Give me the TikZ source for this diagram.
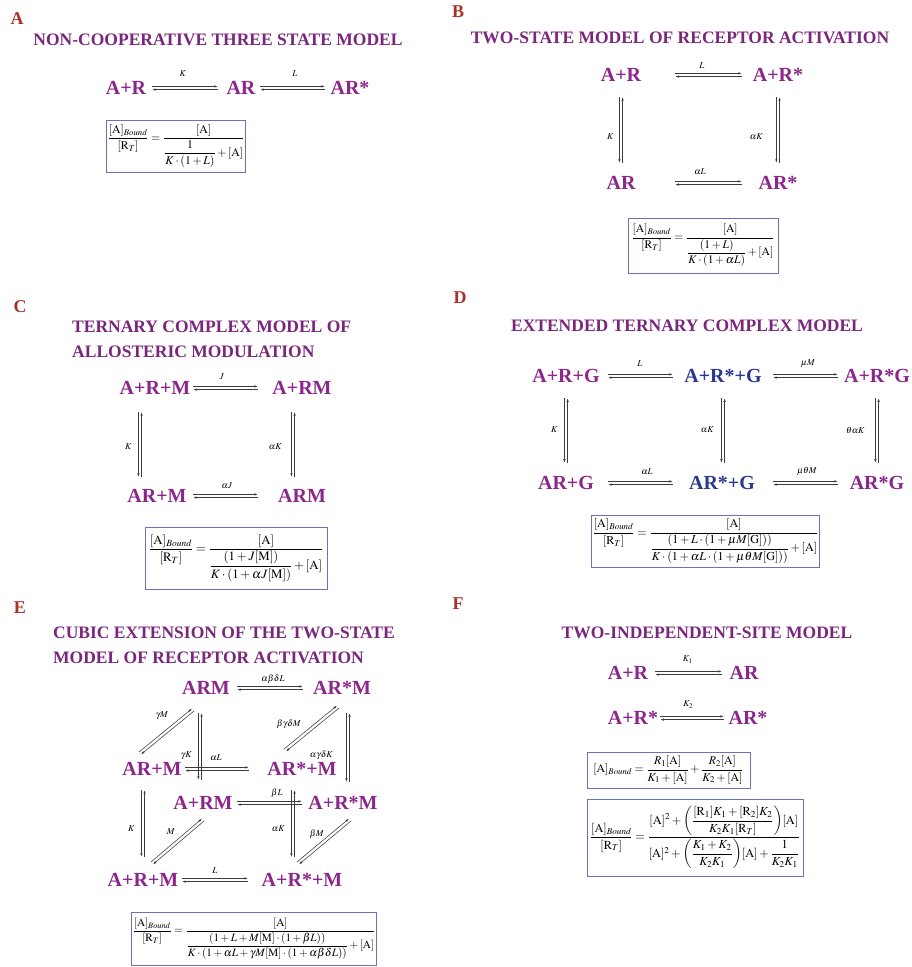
\documentclass[tikz,border=0pt]{standalone}
\usepackage{amsmath,mathptmx}
\usepackage{fontspec}
\setmainfont{Liberation Serif}
\usetikzlibrary{arrows.meta}
\definecolor{spc}{RGB}{140,38,140}
\definecolor{ttlc}{RGB}{122,38,124}
\definecolor{blu}{RGB}{44,56,140}
\definecolor{letc}{RGB}{166,50,40}
\definecolor{boxc}{RGB}{108,114,182}
\definecolor{arrc}{RGB}{60,60,60}

\begin{document}
\begin{tikzpicture}[x=1pt,y=-1pt,
  sp/.style={font=\fontsize{20}{22}\selectfont\bfseries,text=spc,inner sep=2pt},
  spb/.style={sp,text=blu},
  ttl/.style={font=\fontsize{17.5}{25}\selectfont\bfseries,text=ttlc,inner sep=0pt},
  plet/.style={font=\fontsize{18}{20}\selectfont\bfseries,text=letc,inner sep=0pt},
  eqn/.style={draw=boxc,line width=0.8pt,inner sep=1pt,font=\fontsize{#1}{14}\selectfont},
  eqn/.default=12,
  arr/.style={draw=arrc,line width=0.55pt},
  fwd/.style={arr,-{Latex[length=3.5pt,width=2.4pt]},transform canvas={yshift=1.6pt}},
  bwd/.style={arr,{Latex[length=3.5pt,width=2.4pt]}-,transform canvas={yshift=-1.6pt}},
  dwn/.style={arr,-{Latex[length=3.5pt,width=2.4pt]},transform canvas={xshift=-1.6pt}},
  upw/.style={arr,{Latex[length=3.5pt,width=2.4pt]}-,transform canvas={xshift=1.6pt}},
  dgf/.style={arr,-{Latex[length=3.5pt,width=2.4pt]},transform canvas={xshift=-1.1pt,yshift=1.1pt}},
  dgb/.style={arr,{Latex[length=3.5pt,width=2.4pt]}-,transform canvas={xshift=1.1pt,yshift=-1.1pt}},
  lab/.style={font=\fontsize{9}{10}\selectfont,inner sep=0pt}]
  \useasboundingbox[fill=white] (0,0) rectangle (912,967);

  % A
  \node[plet] (la) at (17,19) {A};
  \node[ttl] (ta) at (218,40) {NON-COOPERATIVE THREE STATE MODEL};
  \node[sp] (a1) at (126,88) {A+R};
  \node[sp] (a2) at (241,88) {AR};
  \node[sp] (a3) at (350,88) {AR*};
  \draw[fwd,shorten <=3.9pt,shorten >=6.6pt](a1.east)--(a2.west) node[lab,midway,shift={(-3.4,-13)}]{$K$};
  \draw[bwd,shorten <=3.9pt,shorten >=6.6pt](a1.east)--(a2.west);
  \draw[fwd,shorten <=2.6pt,shorten >=3.6pt](a2.east)--(a3.west) node[lab,midway,shift={(2,-13)}]{$L$};
  \draw[bwd,shorten <=2.6pt,shorten >=3.6pt](a2.east)--(a3.west);
  \node[eqn=11.8,minimum width=138pt,minimum height=52pt] (ea) at (176,146)
    {$\displaystyle\frac{[\mathrm{A}]_{\mathit{Bound}}}{[\mathrm{R}_T]}=\frac{[\mathrm{A}]}{\dfrac{1}{K\cdot(1+L)}+[\mathrm{A}]}$};

  % B
  \node[plet] (lb) at (458,12) {B};
  \node[ttl] (tb) at (680,38) {TWO-STATE MODEL OF RECEPTOR ACTIVATION};
  \node[sp] (b1) at (621,75) {A+R};
  \node[sp] (b2) at (778,75) {A+R*};
  \node[sp] (b3) at (621,183) {AR};
  \node[sp] (b4) at (778,183) {AR*};
  \draw[fwd,shorten <=31.9pt,shorten >=8.9pt](b1.east)--(b2.west) node[lab,midway,shift={(5,-8)}]{$L$};
  \draw[bwd,shorten <=31.9pt,shorten >=8.9pt](b1.east)--(b2.west);
  \draw[fwd,shorten <=37.6pt,shorten >=14.6pt](b3.east)--(b4.west) node[lab,midway,shift={(3,-10)}]{$\alpha L$};
  \draw[bwd,shorten <=37.6pt,shorten >=14.6pt](b3.east)--(b4.west);
  \draw[dwn,shorten <=13.4pt,shorten >=11.4pt](b1.south)--(b3.north) node[lab,midway,shift={(-9,8)}]{$K$};
  \draw[upw,shorten <=13.4pt,shorten >=11.4pt](b1.south)--(b3.north);
  \draw[dwn,shorten <=13.4pt,shorten >=11.4pt](b2.south)--(b4.north) node[lab,midway,shift={(-20,8)}]{$\alpha K$};
  \draw[upw,shorten <=13.4pt,shorten >=11.4pt](b2.south)--(b4.north);
  \node[eqn=11.6,minimum width=150pt,minimum height=55pt] (eb) at (703,245.5)
    {$\displaystyle\frac{[\mathrm{A}]_{\mathit{Bound}}}{[\mathrm{R}_T]}=\frac{[\mathrm{A}]}{\dfrac{(1+L)}{K\cdot(1+\alpha L)}+[\mathrm{A}]}$};

  % C
  \node[plet] (lc) at (20,307) {C};
  \node[ttl,align=left,anchor=west] (tc) at (72,339.5) {TERNARY COMPLEX MODEL OF\\ALLOSTERIC MODULATION};
  \node[sp] (c1) at (155,388) {A+R+M};
  \node[sp] (c2) at (302,388) {A+RM};
  \node[sp] (c3) at (157,496) {AR+M};
  \node[sp] (c4) at (302,496) {ARM};
  \draw[fwd,shorten <=0.7pt,shorten >=12.4pt](c1.east)--(c2.west) node[lab,midway,shift={(-9.4,-10)}]{$J$};
  \draw[bwd,shorten <=0.7pt,shorten >=12.4pt](c1.east)--(c2.west);
  \draw[fwd,shorten <=4.4pt,shorten >=18.1pt](c3.east)--(c4.west) node[lab,midway,shift={(-5.4,-9)}]{$\alpha J$};
  \draw[bwd,shorten <=4.4pt,shorten >=18.1pt](c3.east)--(c4.west);
  \draw[dwn,shorten <=15.4pt,shorten >=10.4pt]([shift={(-15,0)}]c1.south)--([shift={(-17,0)}]c3.north) node[lab,midway,shift={(-10,5)}]{$K$};
  \draw[upw,shorten <=15.4pt,shorten >=10.4pt]([shift={(-15,0)}]c1.south)--([shift={(-17,0)}]c3.north);
  \draw[dwn,shorten <=15.4pt,shorten >=10.4pt]([shift={(-9,0)}]c2.south)--([shift={(-9,0)}]c4.north) node[lab,midway,shift={(-16,5)}]{$\alpha K$};
  \draw[upw,shorten <=15.4pt,shorten >=10.4pt]([shift={(-9,0)}]c2.south)--([shift={(-9,0)}]c4.north);
  \node[eqn=12.8,minimum width=182pt,minimum height=62pt] (ec) at (236,558)
    {$\displaystyle\frac{[\mathrm{A}]_{\mathit{Bound}}}{[\mathrm{R}_T]}=\frac{[\mathrm{A}]}{\dfrac{(1+J[\mathrm{M}])}{K\cdot(1+\alpha J[\mathrm{M}])}+[\mathrm{A}]}$};

  % D
  \node[plet] (ld) at (460,298) {D};
  \node[ttl] (td) at (687,326) {EXTENDED TERNARY COMPLEX MODEL};
  \node[sp] (d1) at (566,376) {A+R+G};
  \node[spb] (d2) at (723,376) {A+R*+G};
  \node[sp] (d3) at (877,376) {A+R*G};
  \node[sp] (d4) at (566,483) {AR+G};
  \node[spb] (d5) at (722,483) {AR*+G};
  \node[sp] (d6) at (877,483) {AR*G};
  \draw[fwd,shorten <=6.4pt,shorten >=9.4pt](d1.east)--(d2.west) node[lab,midway,shift={(-2,-11)}]{$L$};
  \draw[bwd,shorten <=6.4pt,shorten >=9.4pt](d1.east)--(d2.west);
  \draw[fwd,shorten <=9.4pt,shorten >=4.1pt](d2.east)--(d3.west) node[lab,midway,shift={(5,-11)}]{$\mu M$};
  \draw[bwd,shorten <=9.4pt,shorten >=4.1pt](d2.east)--(d3.west);
  \draw[fwd,shorten <=12.1pt,shorten >=14.1pt](d4.east)--(d5.west) node[lab,midway,shift={(5.5,-10)}]{$\alpha L$};
  \draw[bwd,shorten <=12.1pt,shorten >=14.1pt](d4.east)--(d5.west);
  \draw[fwd,shorten <=16.1pt,shorten >=9.8pt](d5.east)--(d6.west) node[lab,midway,shift={(4.6,-10)}]{$\mu\theta M$};
  \draw[bwd,shorten <=16.1pt,shorten >=9.8pt](d5.east)--(d6.west);
  \draw[dwn,shorten <=13.4pt,shorten >=11.4pt](d1.south)--(d4.north) node[lab,midway,shift={(-10,0.5)}]{$K$};
  \draw[upw,shorten <=13.4pt,shorten >=11.4pt](d1.south)--(d4.north);
  \draw[dwn,shorten <=13.4pt,shorten >=11.4pt](d2.south)--([shift={(1,0)}]d5.north) node[lab,midway,shift={(-14,0.5)}]{$\alpha K$};
  \draw[upw,shorten <=13.4pt,shorten >=11.4pt](d2.south)--([shift={(1,0)}]d5.north);
  \draw[dwn,shorten <=13.4pt,shorten >=11.4pt](d3.south)--(d6.north) node[lab,midway,shift={(-20,0.5)}]{$\theta\alpha K$};
  \draw[upw,shorten <=13.4pt,shorten >=11.4pt](d3.south)--(d6.north);
  \node[eqn=12.1,minimum width=225pt,minimum height=52pt] (ed) at (705.5,541)
    {$\displaystyle\frac{[\mathrm{A}]_{\mathit{Bound}}}{[\mathrm{R}_T]}=\frac{[\mathrm{A}]}{\dfrac{(1+L\cdot(1+\mu M[\mathrm{G}]))}{K\cdot(1+\alpha L\cdot(1+\mu\theta M[\mathrm{G}]))}+[\mathrm{A}]}$};

  % E
  \node[plet] (le) at (20,608) {E};
  \node[ttl,align=left,anchor=west] (te) at (53,645.5) {CUBIC EXTENSION OF THE TWO-STATE\\MODEL OF RECEPTOR ACTIVATION};
  \node[sp] (e1) at (206,688) {ARM};
  \node[sp] (e2) at (342,688) {AR*M};
  \node[sp] (e3) at (152,769) {AR+M};
  \node[sp] (e4) at (302,769) {AR*+M};
  \node[sp] (e5) at (203,803) {A+RM};
  \node[sp] (e6) at (343,803) {A+R*M};
  \node[sp] (e7) at (143,880) {A+R+M};
  \node[sp] (e8) at (302,880) {A+R*+M};
  \draw[fwd,shorten <=5.1pt,shorten >=8.1pt](e1.east)--(e2.west) node[lab,midway,shift={(1.5,-7)}]{$\alpha\beta\delta L$};
  \draw[bwd,shorten <=5.1pt,shorten >=8.1pt](e1.east)--(e2.west);
  \draw[fwd,shorten <=1.4pt,shorten >=16.4pt](e3.east)--(e4.west) node[lab,midway,shift={(-8.5,-10)}]{$\alpha L$};
  \draw[bwd,shorten <=1.4pt,shorten >=16.4pt](e3.east)--(e4.west);
  \draw[fwd,shorten <=2.4pt,shorten >=4.4pt](e5.east)--(e6.west) node[lab,midway,shift={(6.5,-8)}]{$\beta L$};
  \draw[bwd,shorten <=2.4pt,shorten >=4.4pt](e5.east)--(e6.west);
  \draw[fwd,shorten <=1.7pt,shorten >=11.7pt](e7.east)--(e8.west) node[lab,midway,shift={(-5,-8)}]{$L$};
  \draw[bwd,shorten <=1.7pt,shorten >=11.7pt](e7.east)--(e8.west);
  \draw[dwn,shorten <=16.4pt,shorten >=14.4pt]([shift={(-6,0)}]e1.south)--([shift={(-3,0)}]e5.north) node[lab,midway,shift={(-12,10)}]{$\gamma K$};
  \draw[upw,shorten <=16.4pt,shorten >=14.4pt]([shift={(-6,0)}]e1.south)--([shift={(-3,0)}]e5.north);
  \draw[dwn,shorten <=16.4pt,shorten >=12.4pt]([shift={(6,0)}]e2.south)--([shift={(5,0)}]e6.north) node[lab,midway,shift={(-25,10)}]{$\alpha\gamma\delta K$};
  \draw[upw,shorten <=16.4pt,shorten >=12.4pt]([shift={(6,0)}]e2.south)--([shift={(5,0)}]e6.north);
  \draw[dwn,shorten <=12.4pt,shorten >=14.4pt]([shift={(-9,0)}]e3.south)--(e7.north) node[lab,midway,shift={(-10,4.5)}]{$K$};
  \draw[upw,shorten <=12.4pt,shorten >=14.4pt]([shift={(-9,0)}]e3.south)--(e7.north);
  \draw[dwn,shorten <=12.4pt,shorten >=14.4pt]([shift={(-9,0)}]e4.south)--([shift={(-9,0)}]e8.north) node[lab,midway,shift={(-13,4.5)}]{$\alpha K$};
  \draw[upw,shorten <=12.4pt,shorten >=14.4pt]([shift={(-9,0)}]e4.south)--([shift={(-9,0)}]e8.north);
  \draw[dgf]([shift={(9,-8)}]e7.north)--([shift={(0,8)}]e5.south) node[lab,midway,shift={(-5.5,-8.5)}]{$M$};
  \draw[dgb]([shift={(9,-8)}]e7.north)--([shift={(0,8)}]e5.south);
  \draw[dgf]([shift={(-4,-8)}]e8.north)--([shift={(7,8)}]e6.south) node[lab,midway,shift={(-6,-6.5)}]{$\beta M$};
  \draw[dgb]([shift={(-4,-8)}]e8.north)--([shift={(7,8)}]e6.south);
  \draw[dgf]([shift={(-12,-7)}]e3.north)--([shift={(-13,13)}]e1.south) node[lab,midway,shift={(-3.5,-14.5)}]{$\gamma M$};
  \draw[dgb]([shift={(-12,-7)}]e3.north)--([shift={(-13,13)}]e1.south);
  \draw[dgf]([shift={(-17,-10)}]e4.north)--([shift={(-4,10)}]e2.south) node[lab,midway,shift={(-21.5,-3.5)}]{$\beta\gamma\delta M$};
  \draw[dgb]([shift={(-17,-10)}]e4.north)--([shift={(-4,10)}]e2.south);
  \node[eqn=11.2,minimum width=242pt,minimum height=53pt] (ee) at (254,938.5)
    {$\displaystyle\frac{[\mathrm{A}]_{\mathit{Bound}}}{[\mathrm{R}_T]}=\frac{[\mathrm{A}]}{\dfrac{(1+L+M[\mathrm{M}]\cdot(1+\beta L))}{K\cdot(1+\alpha L+\gamma M[\mathrm{M}]\cdot(1+\alpha\beta\delta L))}+[\mathrm{A}]}$};

  % F
  \node[plet] (lf) at (458,604) {F};
  \node[ttl] (tf) at (707,633) {TWO-INDEPENDENT-SITE MODEL};
  \node[sp] (f1) at (628,673) {A+R};
  \node[sp] (f2) at (744,673) {AR};
  \node[sp] (f3) at (633,718) {A+R*};
  \node[sp] (f4) at (748,718) {AR*};
  \draw[fwd,shorten <=4.9pt,shorten >=5.6pt](f1.east)--(f2.west) node[lab,midway,shift={(-1,-12)}]{$K_1$};
  \draw[bwd,shorten <=4.9pt,shorten >=5.6pt](f1.east)--(f2.west);
  \draw[fwd,shorten <=0pt,shorten >=2.6pt](f3.east)--(f4.west) node[lab,midway,shift={(-5,-12)}]{$K_2$};
  \draw[bwd,shorten <=0pt,shorten >=2.6pt](f3.east)--(f4.west);
  \node[eqn=11.8,minimum width=163pt,minimum height=36pt] (ef1) at (668.5,770)
    {$\displaystyle[\mathrm{A}]_{\mathit{Bound}}=\frac{R_1[\mathrm{A}]}{K_1+[\mathrm{A}]}+\frac{R_2[\mathrm{A}]}{K_2+[\mathrm{A}]}$};
  \node[eqn=12.3,minimum width=216pt,minimum height=77pt] (ef2) at (695,837.5)
    {$\displaystyle\frac{[\mathrm{A}]_{\mathit{Bound}}}{[\mathrm{R}_T]}=\frac{[\mathrm{A}]^2+\biggl(\dfrac{[\mathrm{R}_1]K_1+[\mathrm{R}_2]K_2}{K_2K_1[\mathrm{R}_T]}\biggr)[\mathrm{A}]}{[\mathrm{A}]^2+\biggl(\dfrac{K_1+K_2}{K_2K_1}\biggr)[\mathrm{A}]+\dfrac{1}{K_2K_1}}$};
\end{tikzpicture}
\end{document}
